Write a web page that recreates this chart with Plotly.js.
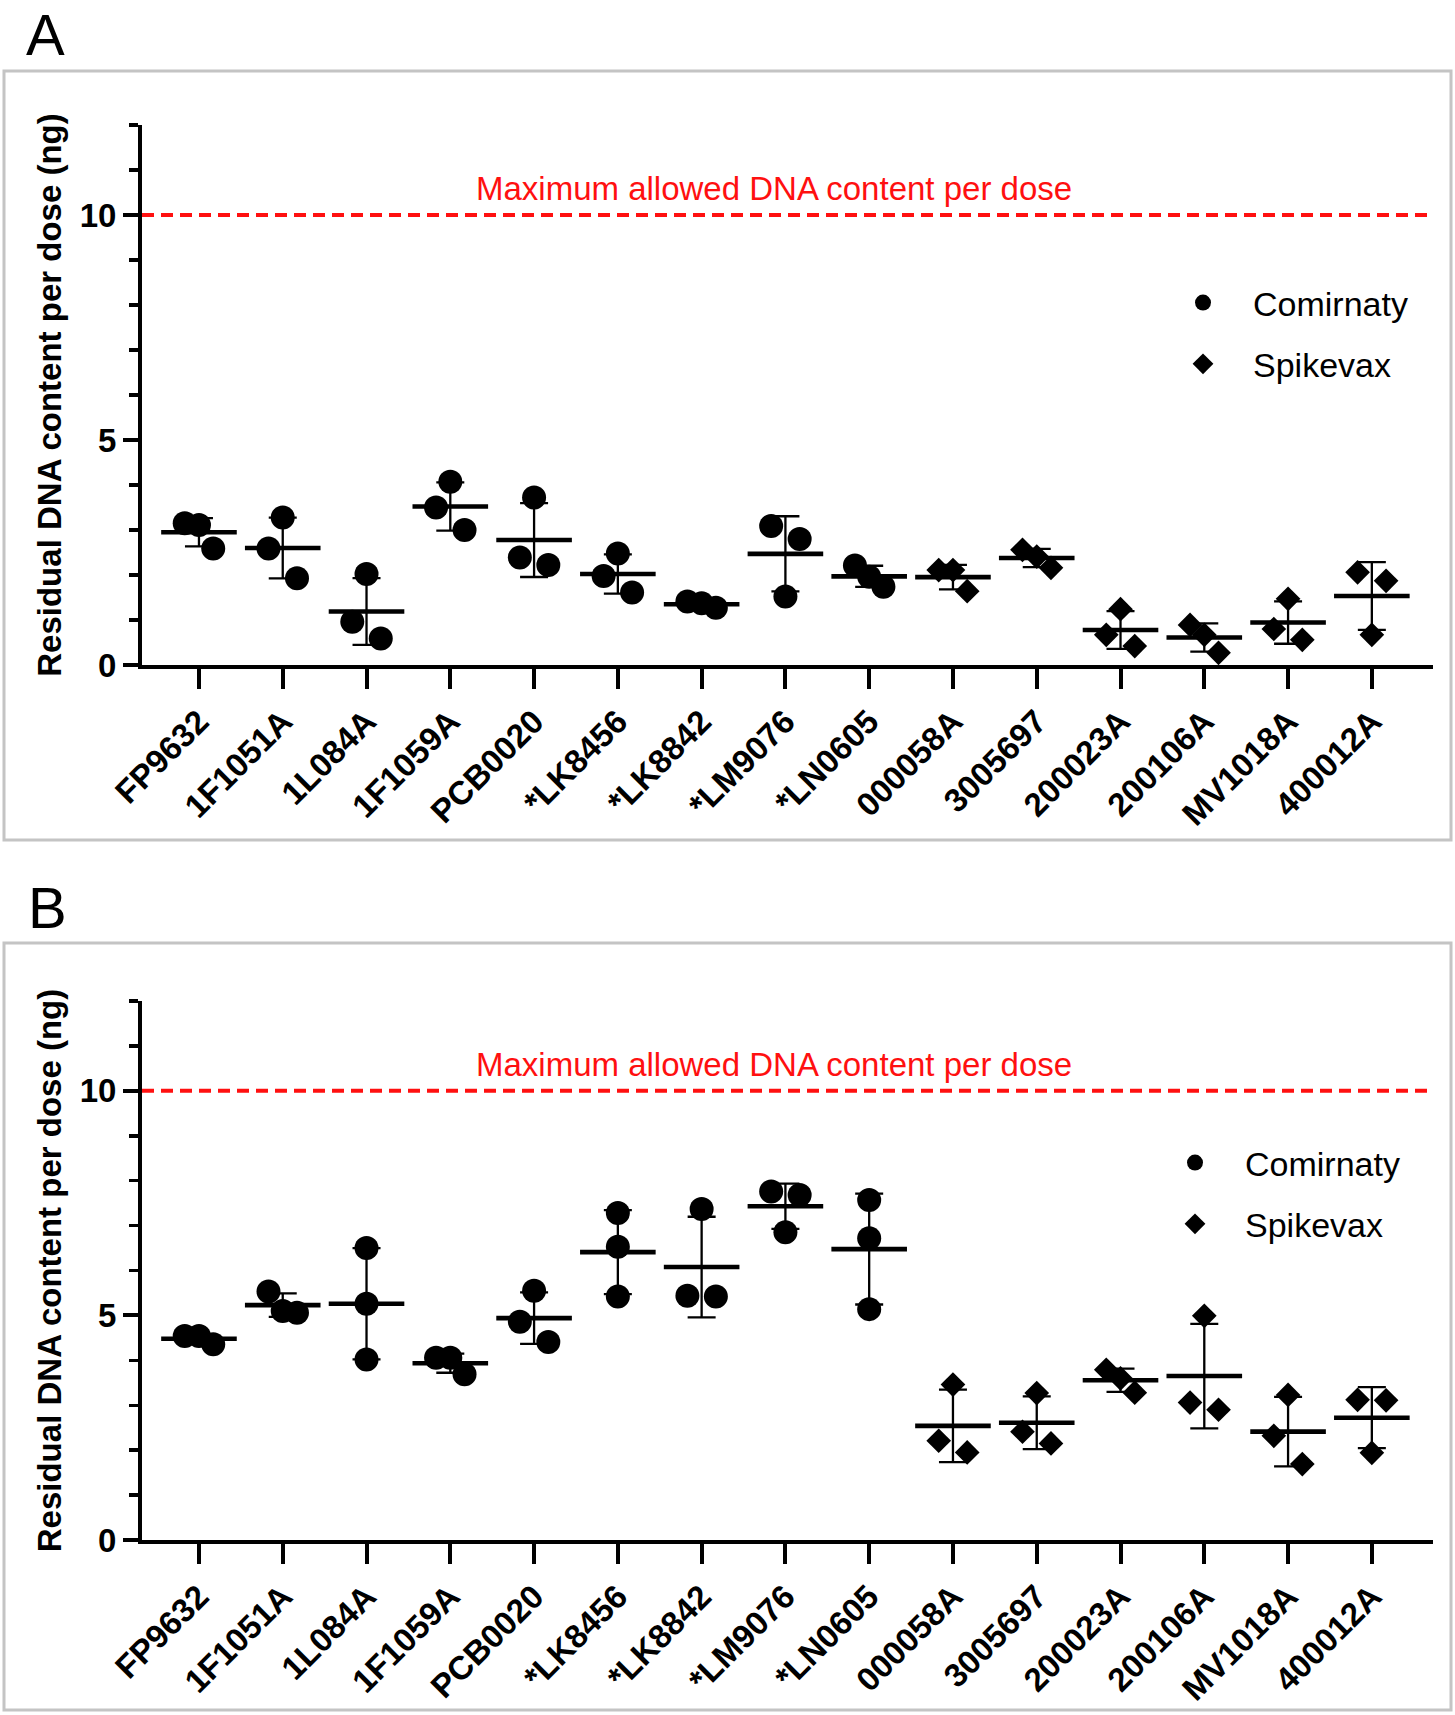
<!DOCTYPE html>
<html>
<head>
<meta charset="utf-8">
<script src="https://cdn.plot.ly/plotly-3.0.1.min.js"></script>
<style>html,body{margin:0;padding:0;background:#fff}</style>
</head>
<body>
<div id="chart" style="width:1455px;height:1715px"></div>
<script>
// ---------- data ----------
const lots = ['FP9632','1F1051A','1L084A','1F1059A','PCB0020','*LK8456','*LK8842','*LM9076','*LN0605',
              '000058A','3005697','200023A','200106A','MV1018A','400012A'];
const vaccines = ['Comirnaty','Comirnaty','Comirnaty','Comirnaty','Comirnaty','Comirnaty','Comirnaty','Comirnaty','Comirnaty',
                  'Spikevax','Spikevax','Spikevax','Spikevax','Spikevax','Spikevax'];
// residual DNA per dose (ng), three replicates per lot
const panelA = [[3.15,3.11,2.59],[2.59,3.28,1.93],[0.96,2.02,0.59],[3.50,4.07,3.00],[2.39,3.72,2.22],
                [1.98,2.48,1.61],[1.41,1.37,1.27],[3.09,1.52,2.80],[2.21,1.96,1.74],
                [2.11,2.11,1.64],[2.56,2.41,2.16],[0.67,1.24,0.42],[0.89,0.67,0.27],[0.80,1.47,0.56],[2.06,0.67,1.87]];
const panelB = [[4.54,4.54,4.36],[5.53,5.10,5.06],[6.50,5.26,4.02],[4.06,4.06,3.69],[4.86,5.55,4.41],
                [7.28,6.53,5.42],[5.44,7.37,5.42],[7.76,6.85,7.68],[7.57,6.72,5.14],
                [2.21,3.46,1.95],[2.41,3.27,2.15],[3.79,3.60,3.28],[3.06,4.99,2.90],[2.32,3.23,1.69],[3.12,1.94,3.11]];
const maxAllowed = 10;
const limitLabel = 'Maximum allowed DNA content per dose';
const yTitle = 'Residual DNA content per dose (ng)';

// ---------- helpers ----------
const W = 1455, H = 1715;
const FONT = 'Liberation Sans, Arial, Helvetica, sans-serif';
const SPREAD = 0.17, CLOSE = 0.72;
const symbolFor = {Comirnaty:'circle', Spikevax:'diamond'};
const sizeFor = {Comirnaty:24, Spikevax:19};

function stats(arr){
  const m = arr.reduce((a,b)=>a+b,0)/arr.length;
  const v = arr.reduce((a,b)=>a+(b-m)*(b-m),0)/(arr.length-1);
  return [m, Math.sqrt(v)];
}
function pointTraces(data, xa, ya, legendId){
  const out = [];
  ['Comirnaty','Spikevax'].forEach(vac=>{
    const xs=[], ys=[];
    data.forEach((grp,gi)=>{
      if(vaccines[gi]!==vac) return;
      grp.forEach((v,k)=>{
        const close = grp.some((w,j)=>j!==k && Math.abs(w-v)<CLOSE);
        xs.push(gi + (close ? (k-1)*SPREAD : 0));
        ys.push(v);
      });
    });
    out.push({type:'scatter', mode:'markers', x:xs, y:ys, xaxis:xa, yaxis:ya, name:vac,
      legend:legendId, legendgroup:legendId+vac, showlegend:true,
      marker:{symbol:symbolFor[vac], size:sizeFor[vac], color:'#000'}, hoverinfo:'y'});
  });
  const means=[], sds=[], idx=[];
  data.forEach((grp,gi)=>{ const s=stats(grp); means.push(s[0]); sds.push(s[1]); idx.push(gi); });
  out.push({type:'scatter', mode:'markers', x:idx, y:means, xaxis:xa, yaxis:ya, showlegend:false,
    marker:{symbol:'line-ew', size:54, color:'#000', line:{color:'#000', width:4.6}},
    error_y:{type:'data', array:sds, visible:true, color:'#000', thickness:2.3, width:14}, hoverinfo:'y'});
  return out;
}

const traces = [...pointTraces(panelA,'x','y','legend'), ...pointTraces(panelB,'x2','y2','legend2')];

function yDom(top,bottom){ return [(H-bottom)/H, (H-top)/H]; }
const xDom = [142/W, 1433/W];

function xAxis(anchor){
  return {domain:xDom, anchor:anchor, range:[-0.68,14.73], tickmode:'array',
    tickvals:lots.map((_,i)=>i), ticktext:lots, tickangle:-45,
    ticks:'outside', ticklen:20, tickwidth:4, tickcolor:'#000',
    showline:true, linewidth:4, linecolor:'#000', showgrid:false, zeroline:false,
    tickfont:{family:FONT, size:33, weight:'bold', color:'#000'}};
}
function yAxis(anchor, dom){
  return {domain:dom, anchor:anchor, range:[0,12], tick0:0, dtick:5,
    ticks:'outside', ticklen:15, tickwidth:4, tickcolor:'#000',
    minor:{dtick:1, ticks:'outside', ticklen:9, tickwidth:3.5, tickcolor:'#000'},
    showline:true, linewidth:4, linecolor:'#000', showgrid:false, zeroline:false,
    tickfont:{family:FONT, size:33, weight:'bold', color:'#000'},
    title:{text:yTitle, standoff:9, font:{family:FONT, size:33, weight:'bold', color:'#000'}}};
}

function limitShape(ya){
  return {type:'line', xref:(ya==='y'?'x':'x2')+' domain', x0:0, x1:1, yref:ya, y0:maxAllowed, y1:maxAllowed,
    line:{color:'#ff1010', width:4, dash:'12px,7px'}};
}
function frame(top,bottom){
  return {type:'rect', xref:'paper', yref:'paper', x0:4/W, x1:1451/W, y0:(H-bottom)/H, y1:(H-top)/H,
    line:{color:'#c4c4c4', width:3}, fillcolor:'rgba(0,0,0,0)', layer:'below'};
}
function limitText(xa,ya){
  return {xref:xa, yref:ya, x:6.86, y:10.58, xanchor:'center', yanchor:'middle', text:limitLabel, showarrow:false,
    font:{family:FONT, size:33, color:'#ff1010'}};
}
function panelLetter(t, px, py, anchor){
  return {xref:'paper', yref:'paper', x:px/W, y:(H-py)/H, xanchor:'center', yanchor:anchor, text:t, showarrow:false,
    font:{family:FONT, size:58, color:'#000'}};
}

const legendBase = {xanchor:'left', yanchor:'top', font:{family:FONT, size:34, color:'#000'},
  itemwidth:90, tracegroupgap:14, traceorder:'grouped', bgcolor:'rgba(0,0,0,0)', itemsizing:'trace'};

const layout = {
  width:W, height:H, margin:{l:0,r:0,t:0,b:0}, paper_bgcolor:'#fff', plot_bgcolor:'rgba(0,0,0,0)',
  showlegend:true,
  xaxis:xAxis('y'), yaxis:yAxis('x', yDom(125,665)),
  xaxis2:xAxis('y2'), yaxis2:yAxis('x2', yDom(1001,1540)),
  shapes:[frame(71,840), frame(943,1710), limitShape('y'), limitShape('y2')],
  annotations:[limitText('x','y'), limitText('x2','y2'), panelLetter('A',45,0,'top'), panelLetter('B',47,907,'middle')],
  legend:Object.assign({}, legendBase, {x:1153/W, y:(H-274)/H}),
  legend2:Object.assign({}, legendBase, {x:1145/W, y:(H-1134)/H})
};

Plotly.newPlot('chart', traces, layout, {staticPlot:true});
</script>
</body>
</html>
